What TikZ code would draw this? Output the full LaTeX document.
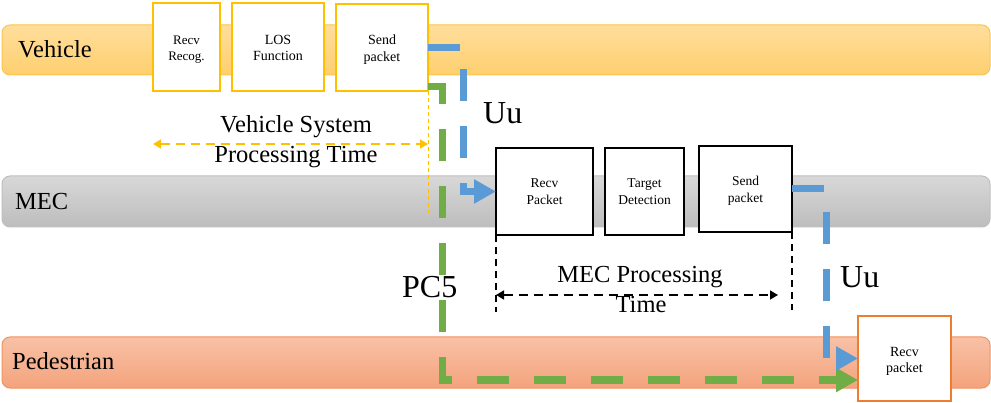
\documentclass[tikz,border=0pt]{standalone}
\usepackage{fontspec}
\setmainfont{Liberation Serif}
\usetikzlibrary{arrows.meta,calc}

\definecolor{vehtop}{HTML}{FFDE9C}
\definecolor{vehbot}{HTML}{FECF6E}
\definecolor{vehline}{HTML}{F9C650}
\definecolor{mectop}{HTML}{D8D8D8}
\definecolor{mecbot}{HTML}{BDBDBD}
\definecolor{mecline}{HTML}{BFBFBF}
\definecolor{pedtop}{HTML}{F8C1A6}
\definecolor{pedbot}{HTML}{F4A37C}
\definecolor{pedline}{HTML}{F0935C}
\definecolor{boxorange}{HTML}{FFC000}
\definecolor{boxred}{HTML}{ED7D31}
\definecolor{uublue}{HTML}{5B9BD5}
\definecolor{pcgreen}{HTML}{70AD47}

\begin{document}
\begin{tikzpicture}[x=1pt,y=-1pt,
  band/.style={rounded corners=8pt, line width=1pt},
  lanelabel/.style={anchor=base west, inner sep=0pt, font=\fontsize{24.5}{30}\selectfont},
  biglabel/.style={anchor=base west, inner sep=0pt, font=\fontsize{32}{36}\selectfont},
  spanlabel/.style={anchor=base, inner sep=0pt, font=\fontsize{24.5}{30}\selectfont},
  stagebox/.style={draw, fill=white, line width=1.8pt, inner sep=0pt, outer sep=0pt,
    align=center, font=\fontsize{14}{16.5}\selectfont, text depth=0pt},
  linkpath/.style={line width=7pt, dash pattern=on 32pt off 25pt, line join=miter,
    -{Triangle[length=22pt,width=23pt]}},
  spanarrow/.style={line width=1.5pt, dash pattern=on 9pt off 6pt,
    {Triangle[length=8pt,width=9pt]}-{Triangle[length=8pt,width=9pt]}},
  guide/.style={line width=1.3pt, dash pattern=on 7pt off 5pt},
]
\useasboundingbox (0,0) rectangle (991,403);

% swim lanes
\shadedraw[band, top color=vehtop, bottom color=vehbot, draw=vehline] (2,25) rectangle (990,75);
\shadedraw[band, top color=mectop, bottom color=mecbot, draw=mecline] (2,176) rectangle (990,227);
\shadedraw[band, top color=pedtop, bottom color=pedbot, draw=pedline] (2,337) rectangle (990,388);

\node[lanelabel] (lveh) at (18,58) {Vehicle};
\node[lanelabel] (lmec) at (15,210) {MEC};
\node[lanelabel] (lped) at (12,370) {Pedestrian};

% vehicle stages
\node[stagebox, draw=boxorange, minimum width=67pt, minimum height=88pt, text height=28pt,
  font=\fontsize{13}{16.5}\selectfont] (vb1) at (186.5,47) {Recv\\Recog.};
\node[stagebox, draw=boxorange, minimum width=92pt, minimum height=88pt, text height=28pt] (vb2) at (278,47) {LOS\\Function};
\node[stagebox, draw=boxorange, minimum width=92pt, minimum height=87pt, text height=28pt] (vb3) at (382,47.5) {Send\\packet};

% MEC stages
\node[stagebox, draw=black, minimum width=97pt, minimum height=87pt, text height=27pt,
  font=\fontsize{13.5}{17}\selectfont] (mb1) at (544.5,191.5) {Recv\\Packet};
\node[stagebox, draw=black, minimum width=79pt, minimum height=87pt, text height=27pt,
  font=\fontsize{13.5}{17}\selectfont] (mb2) at (644.5,191.5) {Target\\Detection};
\node[stagebox, draw=black, minimum width=93pt, minimum height=86pt, text height=27pt,
  font=\fontsize{13.5}{17}\selectfont] (mb3) at (745.5,189) {Send\\packet};

% pedestrian stage
\node[stagebox, draw=boxred, minimum width=93pt, minimum height=85pt, text height=29pt] (pb) at (904.5,358.5) {Recv\\packet};

% vehicle processing time
\coordinate (vsys) at (0,144);
\draw[boxorange, line width=1pt, dash pattern=on 4pt off 3pt] (vb3.south east) -- ++(0,122);
\draw[spanarrow, boxorange] (vb1.west |- vsys) -- (vb3.east |- vsys);
\node[spanlabel] (vt1) at (296,133) {Vehicle System};
\node[spanlabel] (vt2) at (296,163) {Processing Time};

% MEC processing time
\coordinate (mtime) at (0,295);
\draw[guide] (mb1.south west) -- ++(0,77);
\draw[guide] (mb3.south east) -- ++(0,78);
\draw[spanarrow, black] (mb1.south west |- mtime) -- ([xshift=-14pt]mb3.south east |- mtime);
\node[spanlabel] (mt1) at (640,283) {MEC Processing};
\node[spanlabel] (mt2) at (641,313) {Time};

% radio links
\draw[linkpath, uublue] (vb3.east) -- ++(35,0) |- (mb1.west);
\draw[linkpath, pcgreen] ([yshift=4.5pt]vb3.south east) -- ++(14,0) |- ([yshift=-21.5pt]pb.west);
\draw[linkpath, uublue] (mb3.east) -- ++(34,0) |- (pb.west);

\node[biglabel] (uu1) at (483,124) {Uu};
\node[biglabel] (uu2) at (840,288) {Uu};
\node[biglabel] (pc5) at (402,298) {PC5};
\end{tikzpicture}
\end{document}
